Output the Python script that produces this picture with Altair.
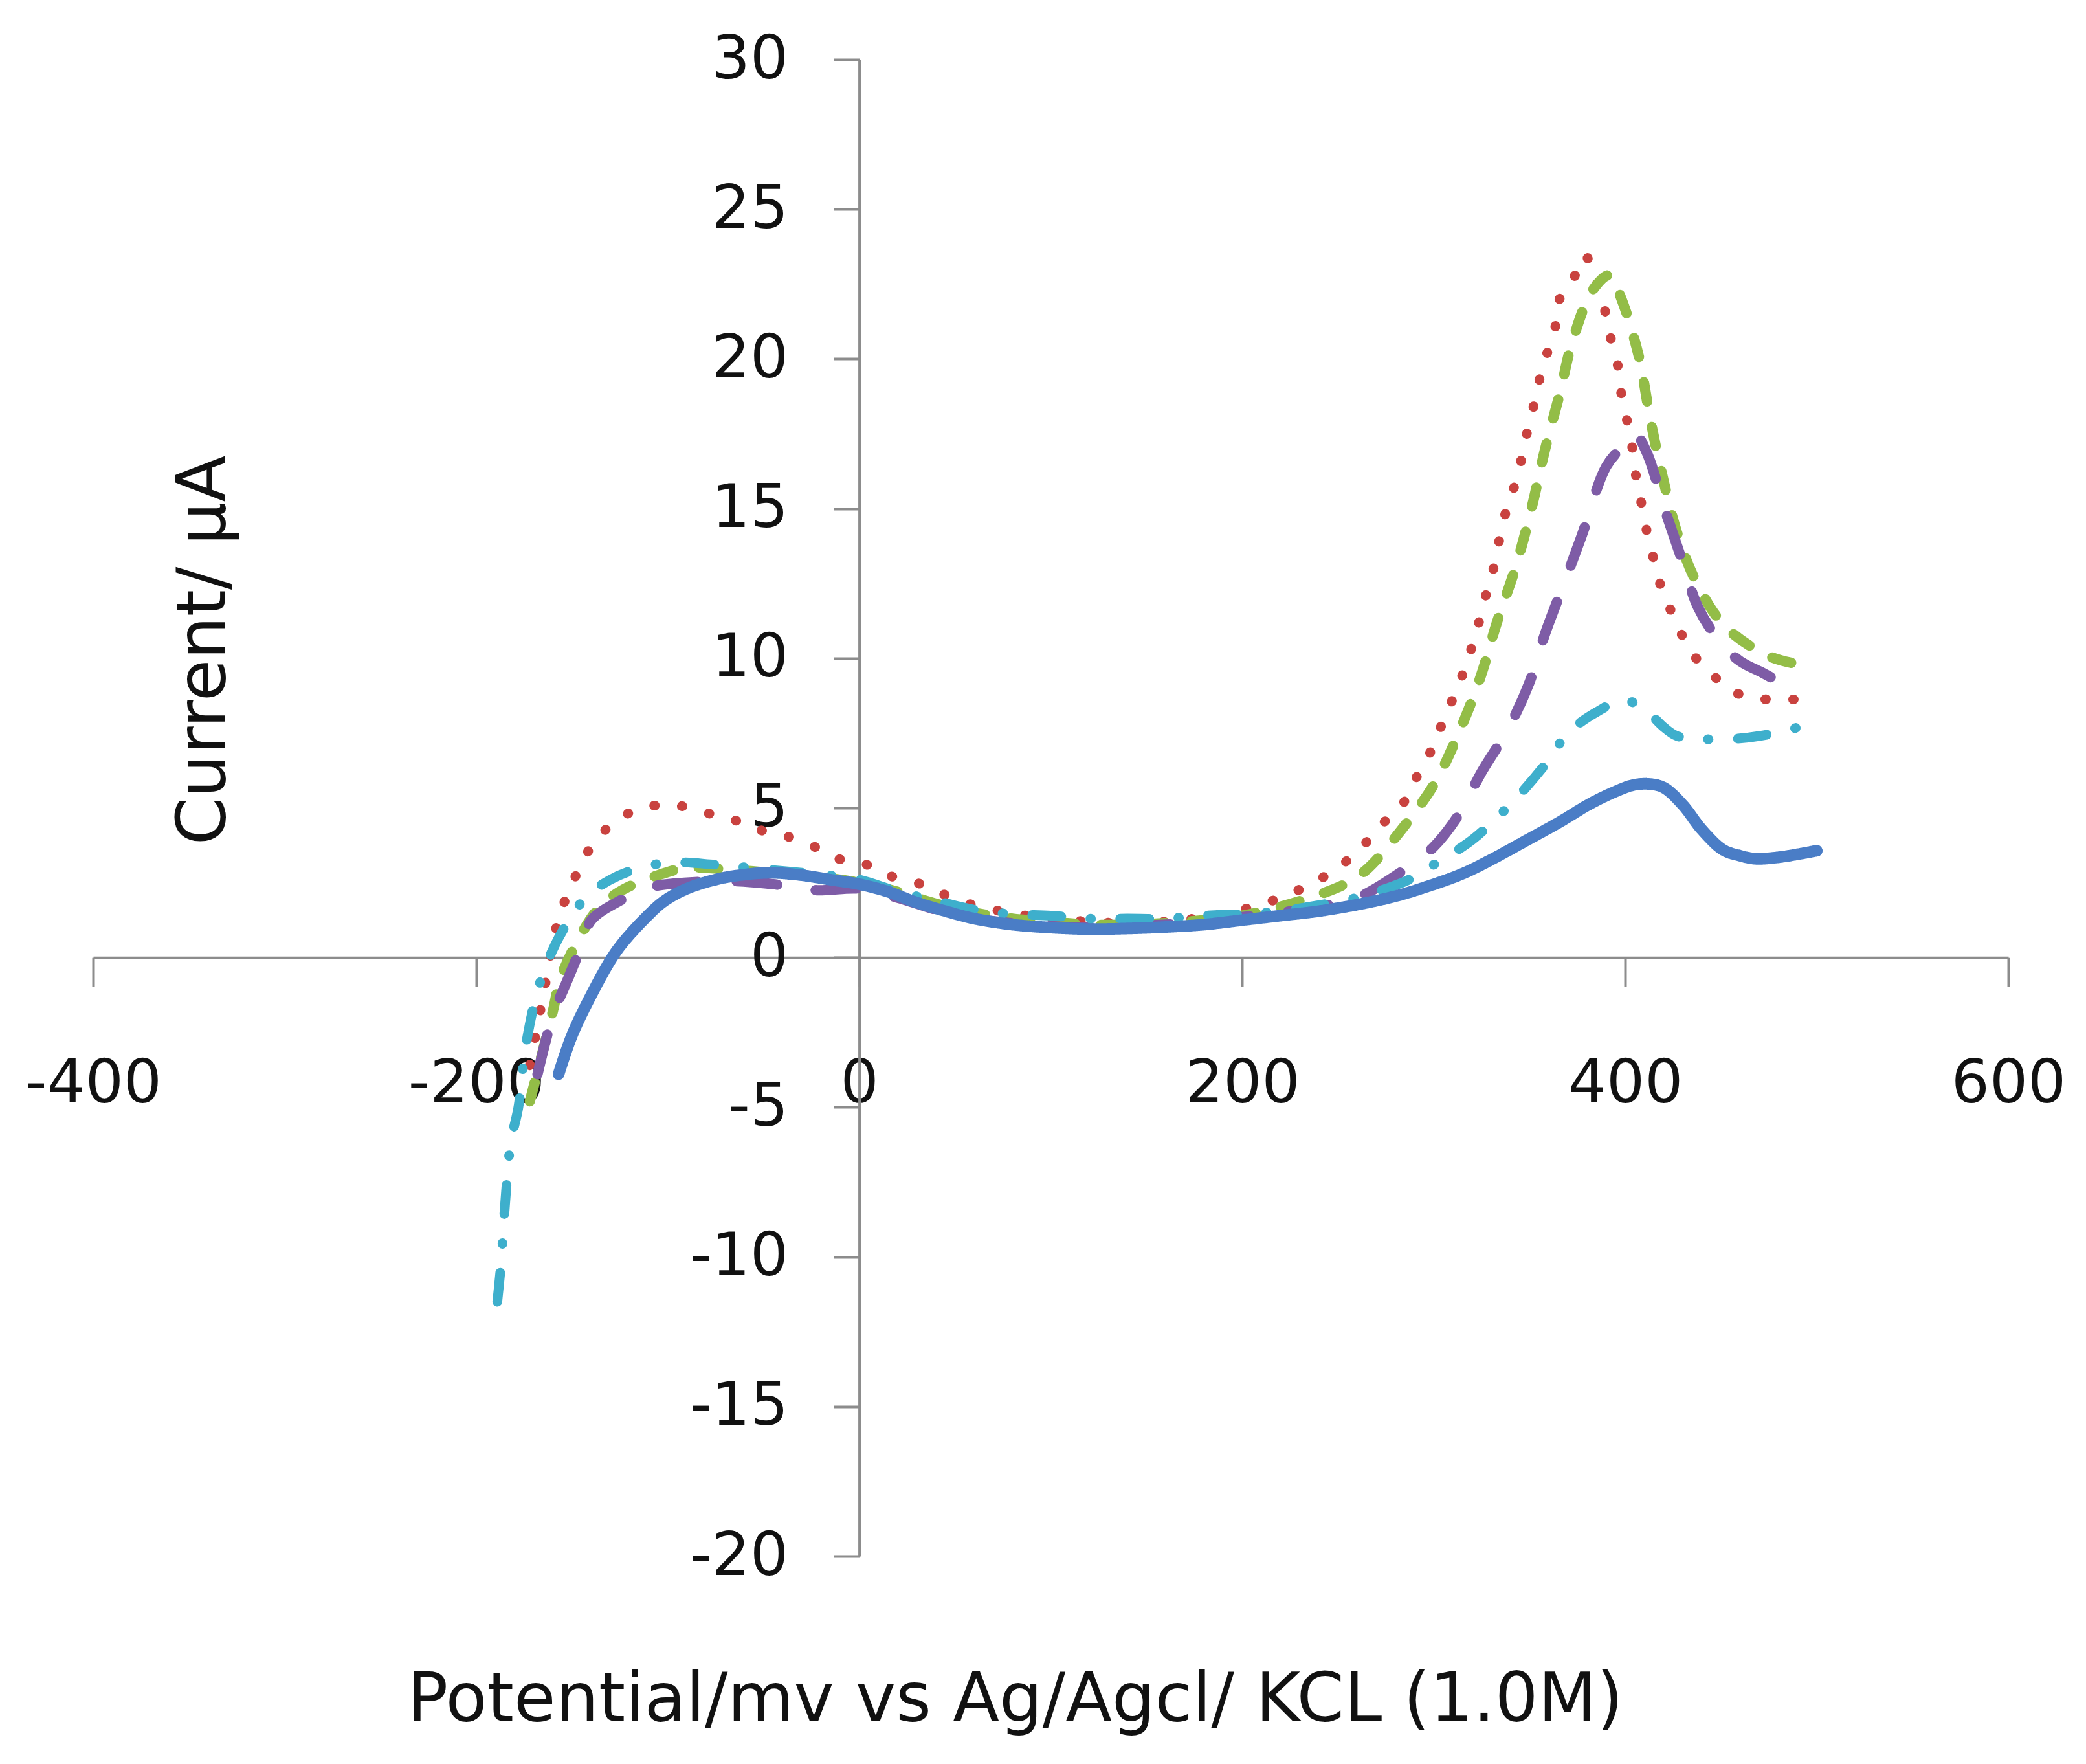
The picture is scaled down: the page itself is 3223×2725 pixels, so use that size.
import altair as alt
import pandas as pd

# potential (mV) and current (uA), one pair of lists per trace
blue_x = [-157, -150, -140, -130, -124, -112, -102, -90, -74, -60, -46, -30, -15, 0, 15, 29, 45, 60,
          80, 100, 120, 140, 160, 180, 200, 220, 240, 261, 280, 296, 315, 330, 348, 365, 382,
          395, 404, 412, 420, 430, 440, 451, 460, 468, 480, 490, 500]
blue_y = [-3.9, -2.6, -1.26, -0.1, 0.45, 1.3, 1.88, 2.3, 2.62, 2.77, 2.83, 2.75, 2.6, 2.45, 2.2, 1.86, 1.55, 1.3,
          1.1, 1.0, 0.95, 0.97, 1.02, 1.1, 1.25, 1.4, 1.55, 1.78, 2.05, 2.36, 2.8, 3.27, 3.9, 4.5, 5.15,
          5.55, 5.76, 5.8, 5.68, 5.1, 4.27, 3.6, 3.4, 3.3, 3.35, 3.45, 3.57]

red_x = [-172, -166, -157, -152, -146, -138, -128, -116, -101, -88, -73, -60, -49, -35, -22, -11, 2, 15,
         30, 41, 54, 70, 85, 100, 120, 140, 160, 180, 200, 220, 240, 252, 263, 272, 283, 289, 297, 303,
         309, 315, 320, 324, 328, 332, 335, 339, 344, 347, 351, 354, 358, 363, 365, 373, 379, 383, 389,
         392, 396, 398, 401, 404, 406, 409, 412, 416, 420, 427, 433, 444, 454, 466, 480, 494]
red_y = [-3.6, -1.6, 1.3, 2.15, 3.0, 3.9, 4.5, 4.95, 5.1, 5.0, 4.7, 4.5, 4.2, 4.0, 3.66, 3.3, 3.15, 2.75,
         2.5, 2.2, 1.86, 1.6, 1.42, 1.3, 1.2, 1.15, 1.2, 1.35, 1.6, 2.0, 2.6, 3.1, 3.73, 4.4, 5.05, 5.8, 6.7, 7.6,
         8.5, 9.45, 10.4, 11.3, 12.3, 13.2, 14.2, 15.2, 16.1, 17.1, 18.1, 19.0, 19.97, 20.9, 21.9, 22.7, 23.47, 22.8, 21.7,
         20.8, 19.8, 18.8, 17.9, 16.9, 15.9, 15.0, 14.0, 13.05, 12.1, 11.2, 10.3, 9.57, 8.95, 8.7, 8.6, 8.66]

green_x = [-172, -160, -156, -145, -135, -123, -105, -90, -70, -50, -30, -10, 0, 20, 40, 60, 80, 100,
           120, 140, 160, 180, 200, 220, 240, 255, 266, 282, 300, 313, 324, 333, 343, 351, 358, 366,
           372, 383, 392, 398, 407, 413, 419, 427, 437, 452, 475, 496]
green_y = [-4.8, -1.8, -0.7, 0.8, 1.72, 2.28, 2.75, 3.0, 2.95, 2.85, 2.75, 2.6, 2.5, 2.2, 1.8, 1.5, 1.3, 1.2,
           1.1, 1.1, 1.15, 1.25, 1.4, 1.7, 2.1, 2.5, 3.0, 4.18, 5.77, 7.5, 9.3, 11.2, 13.1, 15.0, 16.95, 18.9,
           20.5, 22.3, 22.8, 22.0, 20.1, 18.0, 16.2, 14.2, 12.55, 11.07, 10.07, 9.73]

purple_x = [-168, -160, -152, -145, -140, -125, -109, -90, -65, -45, -22, 0, 20, 40, 60, 80, 100, 120,
            140, 160, 180, 200, 220, 240, 260, 283, 300, 313, 325, 339, 350, 358, 368, 377, 390, 399,
            405, 411, 421, 430, 438, 450, 460, 472, 482]
purple_y = [-3.9, -1.94, -0.7, 0.4, 1.24, 1.9, 2.35, 2.5, 2.55, 2.45, 2.25, 2.3, 2.0, 1.6, 1.3, 1.15, 1.05, 1.0,
            1.05, 1.1, 1.2, 1.35, 1.5, 1.7, 2.0, 2.86, 3.7, 4.77, 6.2, 7.66, 9.2, 10.8, 12.5, 14.05, 16.4, 17.1,
            17.5, 16.9, 14.9, 13.2, 11.7, 10.5, 9.9, 9.5, 9.15]

cyan_x = [-189, -187, -185, -182, -178, -174, -167, -159, -150, -142, -130, -119, -100, -75, -50, -25, 0, 20,
          40, 60, 80, 100, 120, 140, 160, 180, 200, 220, 240, 260, 275, 287, 300, 320, 335, 347, 360,
          370, 385, 399, 410, 420, 427, 440, 456, 470, 485, 496]
cyan_y = [-11.5, -10.2, -8.3, -6.2, -5.0, -2.9, -0.9, 0.4, 1.4, 2.07, 2.6, 2.9, 3.17, 3.1, 2.95, 2.8, 2.6, 2.2,
          1.9, 1.6, 1.45, 1.4, 1.3, 1.3, 1.3, 1.4, 1.45, 1.55, 1.75, 2.0, 2.3, 2.6, 3.1, 3.93, 4.8, 5.6, 6.6,
          7.5, 8.2, 8.6, 8.3, 7.7, 7.4, 7.3, 7.3, 7.4, 7.6, 7.8]

x_ticks = [-400, -200, 0, 200, 400, 600]
y_ticks = [-20, -15, -10, -5, 0, 5, 10, 15, 20, 25, 30]

W = 2959
H = 2312

x_scale = alt.Scale(domain=[-400, 600], nice=False, zero=False)
y_scale = alt.Scale(domain=[-20, 30], nice=False, zero=False)


def trace(xs, ys, colour, width, dash):
    df = pd.DataFrame({'Potential': xs, 'Current': ys})
    return alt.Chart(df).mark_line(
        color=colour, strokeWidth=width, strokeDash=dash, strokeCap='round',
        strokeJoin='round', interpolate='catmull-rom').encode(
            x=alt.X('Potential:Q', scale=x_scale,
                    axis=alt.Axis(values=x_ticks, labelExpr="'' + datum.value",
                                  offset=-0.4 * H, tickSize=45, labelPadding=105,
                                  title='Potential/mv vs Ag/Agcl/ KCL (1.0M)',
                                  titleX=1424, titleY=1147, titleAlign='center',
                                  titleBaseline='middle')),
            y=alt.Y('Current:Q', scale=y_scale,
                    axis=alt.Axis(values=y_ticks, labelExpr="'' + datum.value",
                                  offset=-0.4 * W, tickSize=40, labelPadding=70,
                                  title='Current/ μA', titleX=-1012, titleY=912,
                                  titleAngle=270, titleAlign='center',
                                  titleBaseline='middle')),
            order=alt.Order('Potential:Q'))


chart = alt.layer(
    trace(red_x, red_y, '#c9423f', 15, [1, 42]),
    trace(green_x, green_y, '#93bd47', 16, [30, 40]),
    trace(purple_x, purple_y, '#7e5ca6', 16, [63, 60]),
    trace(cyan_x, cyan_y, '#3eafcc', 15, [45, 45, 1, 45]),
    trace(blue_x, blue_y, '#4a7dc6', 18, [1, 0]),
).properties(
    width=W, height=H, autosize=alt.AutoSizeParams(type='none'),
    padding={'left': 136, 'top': 84, 'right': 112, 'bottom': 313}
).configure_view(strokeWidth=0).configure_axis(
    domainColor='#8c8c8c', domainWidth=4, tickColor='#8c8c8c', tickWidth=4,
    grid=False, labelFont='DejaVu Sans', labelFontSize=93, labelColor='#111111',
    titleFont='DejaVu Sans', titleFontSize=105, titleFontWeight='normal',
    titleColor='#111111', labelFlush=False, labelOverlap=False, labelLimit=0)

chart.save("out.html", embed_options={"renderer": "svg", "actions": False})
